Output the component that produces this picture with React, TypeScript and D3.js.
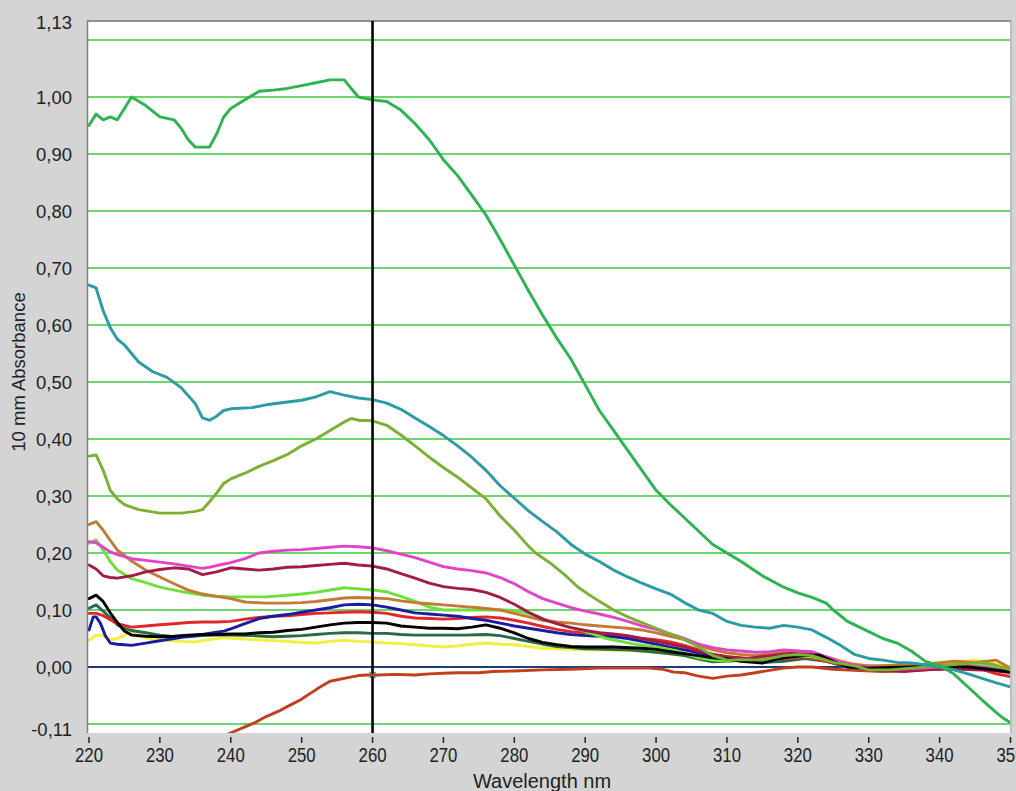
import React from "react";
import * as d3 from "d3";

type Pt = [number, number];

const xTicks = [220, 230, 240, 250, 260, 270, 280, 290, 300, 310, 320, 330, 340, 350];
const xTickLabels = ["220", "230", "240", "250", "260", "270", "280", "290", "300", "310", "320", "330", "340", "350"];
const gridValues = [-0.1, 0.0, 0.1, 0.2, 0.3, 0.4, 0.5, 0.6, 0.7, 0.8, 0.9, 1.0, 1.1];
const yTickValues = [1.13, 1.0, 0.9, 0.8, 0.7, 0.6, 0.5, 0.4, 0.3, 0.2, 0.1, 0.0, -0.11];
const yTickLabels = ["1,13", "1,00", "0,90", "0,80", "0,70", "0,60", "0,50", "0,40", "0,30", "0,20", "0,10", "0,00", "-0,11"];
const cursorWavelength = 260;

const greenTop: Pt[] = [[220,0.95],[221,0.97],[222,0.96],[223,0.965],[224,0.96],[225,0.98],[226,1.0],[228,0.985],[230,0.965],[232,0.96],[233,0.945],[234,0.925],[235,0.912],[237,0.912],[238,0.935],[239,0.965],[240,0.98],[242,0.995],[244,1.01],[246,1.012],[248,1.015],[250,1.02],[252,1.025],[254,1.03],[256,1.03],[257,1.015],[258,1.0],[260,0.995],[262,0.992],[264,0.977],[266,0.953],[268,0.925],[270,0.89],[272,0.862],[274,0.828],[276,0.793],[278,0.75],[280,0.705],[282,0.66],[284,0.617],[286,0.577],[288,0.54],[290,0.495],[292,0.45],[294,0.415],[296,0.38],[298,0.345],[300,0.31],[302,0.285],[305,0.25],[308,0.215],[310,0.2],[312,0.185],[315,0.16],[318,0.14],[320,0.13],[322,0.122],[324,0.112],[325,0.1],[327,0.08],[330,0.062],[332,0.05],[334,0.042],[336,0.028],[338,0.01],[340,0.002],[342,-0.012],[344,-0.035],[346,-0.058],[348,-0.08],[349,-0.09],[350,-0.098]];

const teal: Pt[] = [[220,0.67],[221,0.665],[222,0.625],[223,0.595],[224,0.575],[225,0.565],[227,0.535],[229,0.518],[231,0.508],[233,0.49],[235,0.462],[236,0.437],[237,0.433],[238,0.44],[239,0.45],[240,0.453],[243,0.455],[245,0.46],[248,0.465],[250,0.468],[252,0.474],[254,0.483],[256,0.477],[258,0.472],[260,0.469],[262,0.463],[264,0.452],[266,0.437],[268,0.422],[270,0.406],[272,0.388],[274,0.368],[276,0.345],[278,0.318],[280,0.296],[282,0.274],[284,0.255],[286,0.237],[288,0.215],[290,0.198],[292,0.185],[294,0.17],[296,0.158],[298,0.147],[300,0.137],[302,0.128],[304,0.113],[306,0.1],[308,0.094],[310,0.08],[312,0.073],[314,0.07],[316,0.068],[318,0.073],[320,0.07],[322,0.065],[324,0.052],[326,0.038],[328,0.022],[330,0.015],[332,0.012],[334,0.008],[336,0.007],[338,0.004],[340,0.0],[342,-0.005],[344,-0.012],[346,-0.02],[348,-0.028],[350,-0.035]];

const olive: Pt[] = [[220,0.37],[221,0.372],[222,0.345],[223,0.31],[224,0.295],[225,0.285],[227,0.276],[230,0.27],[233,0.27],[235,0.273],[236,0.276],[237,0.29],[238,0.305],[239,0.322],[240,0.33],[242,0.34],[244,0.352],[246,0.362],[248,0.373],[250,0.388],[252,0.4],[254,0.415],[256,0.43],[257,0.436],[258,0.433],[260,0.432],[262,0.424],[264,0.407],[266,0.388],[268,0.368],[270,0.35],[272,0.333],[274,0.314],[276,0.295],[278,0.265],[280,0.24],[282,0.212],[283,0.2],[285,0.183],[287,0.163],[289,0.14],[291,0.123],[294,0.1],[296,0.088],[298,0.078],[300,0.068],[302,0.058],[304,0.048],[306,0.035],[308,0.02],[310,0.012],[312,0.013],[315,0.012],[318,0.02],[320,0.022],[322,0.02],[325,0.008],[328,0.002],[330,-0.005],[333,-0.005],[336,-0.002],[340,0.002],[343,0.005],[346,0.008],[348,0.003],[350,-0.005]];

const orangeBrown: Pt[] = [[220,0.25],[221,0.255],[222,0.24],[223,0.222],[224,0.205],[226,0.186],[228,0.17],[230,0.158],[232,0.146],[234,0.135],[236,0.128],[238,0.124],[240,0.12],[242,0.114],[245,0.112],[248,0.112],[250,0.113],[252,0.115],[254,0.118],[256,0.121],[258,0.122],[260,0.121],[262,0.12],[264,0.116],[266,0.113],[268,0.111],[270,0.109],[273,0.106],[275,0.104],[278,0.1],[280,0.094],[282,0.088],[284,0.082],[286,0.079],[288,0.077],[290,0.074],[292,0.072],[294,0.07],[296,0.068],[298,0.065],[300,0.06],[302,0.054],[304,0.048],[306,0.038],[308,0.03],[310,0.025],[312,0.022],[314,0.02],[316,0.024],[318,0.026],[320,0.028],[322,0.024],[324,0.012],[326,0.006],[328,0.004],[330,0.002],[334,0.003],[338,0.005],[342,0.01],[345,0.008],[348,0.012],[350,-0.002]];

const lightGreen: Pt[] = [[220,0.217],[221,0.223],[222,0.205],[223,0.185],[224,0.17],[226,0.155],[228,0.148],[230,0.14],[232,0.135],[234,0.13],[236,0.126],[238,0.124],[240,0.123],[242,0.123],[245,0.123],[248,0.126],[250,0.128],[252,0.131],[254,0.135],[256,0.139],[258,0.137],[260,0.135],[262,0.132],[264,0.124],[266,0.115],[268,0.105],[270,0.1],[273,0.1],[276,0.1],[279,0.1],[281,0.097],[283,0.09],[285,0.08],[287,0.072],[289,0.066],[291,0.058],[293,0.05],[295,0.045],[297,0.04],[300,0.035],[303,0.028],[306,0.016],[308,0.012],[310,0.01],[313,0.014],[316,0.018],[319,0.02],[322,0.018],[325,0.01],[328,0.004],[332,0.0],[336,0.002],[340,0.004],[344,0.006],[347,0.002],[350,-0.005]];

const magenta: Pt[] = [[220,0.22],[221,0.218],[222,0.21],[223,0.202],[224,0.197],[226,0.19],[228,0.187],[230,0.184],[232,0.181],[234,0.177],[236,0.173],[237,0.175],[238,0.178],[240,0.183],[242,0.19],[244,0.2],[246,0.203],[248,0.205],[250,0.206],[252,0.208],[254,0.21],[256,0.212],[258,0.211],[260,0.209],[262,0.204],[264,0.198],[266,0.192],[268,0.184],[270,0.176],[272,0.172],[274,0.169],[276,0.165],[278,0.157],[280,0.146],[282,0.132],[284,0.12],[286,0.112],[288,0.104],[290,0.098],[292,0.093],[294,0.087],[296,0.08],[298,0.072],[300,0.066],[302,0.058],[304,0.05],[306,0.04],[308,0.034],[310,0.03],[312,0.028],[314,0.026],[316,0.027],[318,0.03],[320,0.028],[322,0.027],[324,0.018],[326,0.01],[328,0.004],[330,0.0],[334,-0.004],[338,-0.002],[342,0.002],[346,0.0],[350,-0.008]];

const maroon: Pt[] = [[220,0.179],[221,0.172],[222,0.16],[223,0.157],[224,0.156],[226,0.16],[228,0.167],[230,0.171],[232,0.174],[234,0.172],[236,0.162],[238,0.167],[240,0.174],[242,0.172],[244,0.17],[246,0.172],[248,0.175],[250,0.176],[252,0.178],[254,0.18],[256,0.182],[258,0.179],[260,0.177],[262,0.172],[264,0.164],[266,0.156],[268,0.147],[270,0.141],[272,0.138],[274,0.136],[276,0.131],[278,0.122],[280,0.11],[282,0.096],[284,0.084],[286,0.076],[288,0.069],[290,0.064],[292,0.06],[294,0.058],[296,0.055],[298,0.05],[300,0.045],[302,0.04],[304,0.035],[306,0.028],[308,0.022],[310,0.018],[313,0.015],[316,0.02],[319,0.024],[322,0.022],[325,0.01],[328,0.002],[331,-0.006],[335,-0.008],[339,-0.004],[343,-0.004],[347,-0.006],[350,-0.01]];

const black: Pt[] = [[220,0.12],[221,0.126],[222,0.115],[223,0.095],[224,0.078],[225,0.063],[226,0.056],[228,0.054],[230,0.053],[232,0.054],[234,0.056],[236,0.057],[238,0.057],[240,0.058],[242,0.058],[244,0.06],[246,0.061],[248,0.064],[250,0.066],[252,0.07],[254,0.074],[256,0.077],[258,0.078],[260,0.078],[262,0.077],[264,0.072],[266,0.07],[268,0.068],[270,0.068],[272,0.067],[274,0.07],[276,0.074],[278,0.068],[280,0.06],[282,0.05],[284,0.043],[286,0.039],[288,0.036],[290,0.035],[294,0.035],[298,0.033],[300,0.031],[303,0.025],[306,0.02],[308,0.016],[310,0.014],[312,0.01],[315,0.007],[317,0.014],[319,0.018],[321,0.02],[323,0.021],[325,0.01],[327,0.0],[330,-0.002],[333,-0.001],[336,0.0],[340,0.002],[344,0.0],[347,-0.004],[350,-0.009]];

const darkGreen: Pt[] = [[220,0.103],[221,0.109],[222,0.098],[223,0.086],[224,0.074],[225,0.068],[226,0.064],[228,0.06],[230,0.056],[232,0.053],[234,0.053],[236,0.055],[238,0.056],[240,0.056],[243,0.055],[246,0.053],[248,0.054],[250,0.055],[252,0.057],[254,0.059],[256,0.06],[258,0.06],[260,0.059],[262,0.059],[264,0.057],[266,0.056],[268,0.056],[270,0.056],[273,0.056],[276,0.057],[278,0.055],[280,0.05],[282,0.045],[284,0.04],[286,0.036],[288,0.034],[290,0.032],[293,0.031],[296,0.03],[299,0.027],[302,0.023],[304,0.02],[306,0.014],[308,0.009],[310,0.01],[312,0.012],[315,0.008],[318,0.01],[321,0.015],[324,0.01],[327,0.0],[330,-0.004],[334,-0.003],[338,0.0],[342,-0.002],[346,-0.003],[350,-0.006]];

const red: Pt[] = [[220,0.094],[221,0.094],[222,0.09],[223,0.083],[224,0.076],[226,0.07],[228,0.072],[230,0.074],[232,0.076],[234,0.078],[236,0.079],[238,0.079],[240,0.08],[242,0.084],[244,0.087],[246,0.089],[248,0.09],[250,0.092],[252,0.094],[254,0.095],[256,0.096],[258,0.097],[260,0.096],[262,0.094],[264,0.089],[266,0.086],[268,0.085],[270,0.084],[272,0.085],[274,0.087],[276,0.088],[278,0.086],[280,0.082],[282,0.077],[284,0.071],[286,0.066],[288,0.062],[290,0.06],[292,0.057],[294,0.056],[296,0.053],[298,0.05],[300,0.048],[302,0.044],[304,0.038],[306,0.03],[308,0.022],[310,0.018],[312,0.015],[315,0.012],[318,0.015],[321,0.018],[324,0.01],[327,0.002],[330,-0.003],[334,-0.004],[338,-0.003],[342,0.003],[345,0.0],[348,-0.012],[350,-0.017]];

const blue: Pt[] = [[220,0.065],[220.6,0.088],[221,0.088],[221.6,0.077],[222.3,0.055],[223,0.042],[224,0.04],[225,0.039],[226,0.038],[228,0.042],[230,0.046],[232,0.05],[234,0.054],[236,0.057],[238,0.061],[239,0.063],[240,0.067],[242,0.076],[244,0.085],[246,0.089],[248,0.092],[250,0.096],[252,0.1],[254,0.104],[256,0.109],[258,0.11],[260,0.109],[262,0.105],[264,0.1],[266,0.095],[268,0.093],[270,0.091],[272,0.089],[274,0.085],[276,0.082],[278,0.077],[280,0.072],[282,0.068],[284,0.064],[286,0.06],[288,0.057],[290,0.055],[292,0.054],[294,0.053],[296,0.05],[298,0.045],[300,0.04],[302,0.035],[304,0.03],[306,0.025],[308,0.02],[310,0.016],[312,0.013],[315,0.012],[318,0.018],[321,0.022],[323,0.02],[326,0.008],[329,0.0],[332,-0.003],[336,-0.002],[340,0.0],[344,0.003],[347,-0.002],[350,-0.005]];

const yellow: Pt[] = [[220,0.047],[221,0.056],[222,0.055],[223,0.048],[224,0.05],[225,0.056],[226,0.06],[227,0.055],[229,0.048],[231,0.047],[233,0.045],[235,0.044],[237,0.048],[239,0.051],[241,0.05],[243,0.048],[245,0.047],[248,0.045],[250,0.043],[252,0.042],[254,0.045],[256,0.047],[258,0.045],[260,0.044],[262,0.042],[264,0.041],[266,0.039],[268,0.037],[270,0.035],[272,0.037],[274,0.04],[276,0.042],[278,0.04],[280,0.039],[282,0.036],[284,0.033],[286,0.032],[288,0.031],[290,0.03],[292,0.03],[295,0.029],[298,0.028],[300,0.026],[303,0.022],[306,0.018],[309,0.015],[312,0.014],[315,0.016],[318,0.02],[321,0.024],[324,0.018],[327,0.008],[330,0.002],[334,0.0],[338,0.002],[342,0.008],[345,0.012],[347,0.008],[350,0.0]];

const rust: Pt[] = [[239.5,-0.118],[240.3,-0.114],[242,-0.105],[243.5,-0.097],[245,-0.087],[247,-0.076],[248.5,-0.066],[249.8,-0.058],[251,-0.048],[252.6,-0.035],[254,-0.025],[256,-0.02],[258,-0.015],[259.2,-0.014],[261,-0.014],[263,-0.013],[266,-0.014],[268,-0.012],[270,-0.011],[272,-0.01],[275,-0.01],[277,-0.008],[280,-0.007],[284,-0.005],[288,-0.004],[292,-0.002],[296,-0.002],[299,-0.002],[301,-0.004],[302.5,-0.009],[304,-0.01],[306,-0.016],[308,-0.02],[310,-0.016],[312,-0.014],[314,-0.01],[316,-0.006],[318,-0.002],[320,0.0],[322,0.0],[325,-0.004],[328,-0.006],[332,-0.008],[336,-0.006],[340,-0.004],[343,0.005],[346,0.004],[350,-0.004]];

const seriesList: { data: Pt[]; color: string }[] = [
  { data: rust, color: "#c0401e" },
  { data: yellow, color: "#f2f03c" },
  { data: darkGreen, color: "#2a6a44" },
  { data: red, color: "#e0282a" },
  { data: blue, color: "#1c1ca0" },
  { data: lightGreen, color: "#6ee03c" },
  { data: orangeBrown, color: "#c57a34" },
  { data: maroon, color: "#a21c44" },
  { data: magenta, color: "#e244c8" },
  { data: black, color: "#000000" },
  { data: olive, color: "#7cb032" },
  { data: teal, color: "#2a9ca2" },
  { data: greenTop, color: "#2db452" },
];

const W = 1016;
const H = 791;
const plotLeft = 88;
const plotRight = 1010;
const plotTop = 22;
const plotBottom = 733;

export default function App() {
  const x = d3.scaleLinear().domain([220, 350]).range([89, 1010.5]);
  const y = d3.scaleLinear().domain([-0.11, 1.13]).range([729.7, 22.9]);
  const line = d3
    .line<Pt>()
    .x((d) => x(d[0]))
    .y((d) => y(d[1]))
    .curve(d3.curveLinear);
  const font = "'Liberation Sans', Arial, Helvetica, sans-serif";
  const rustAtCursor = y(-0.014);

  return (
    <svg
      width={W}
      height={H}
      style={{ position: "absolute", left: 0, top: 0, display: "block" }}
    >
      <defs>
        <clipPath id="plotClip">
          <rect x={plotLeft} y={plotTop} width={plotRight - plotLeft} height={plotBottom - plotTop} />
        </clipPath>
      </defs>
      <rect x={0} y={0} width={W} height={H} fill="#d4d4d4" />
      <rect x={plotLeft} y={plotTop} width={plotRight - plotLeft} height={plotBottom - plotTop} fill="#ffffff" />
      {gridValues.map((v) => (
        <line
          key={"g" + v}
          x1={plotLeft}
          x2={plotRight}
          y1={y(v)}
          y2={y(v)}
          stroke={v === 0 ? "#1e3c78" : "#3cc83c"}
          strokeWidth={v === 0 ? 2.2 : 1.4}
        />
      ))}
      <g clipPath="url(#plotClip)" fill="none" strokeLinejoin="round" strokeLinecap="round">
        {seriesList.map((s, i) => (
          <path key={i} d={line(s.data) || ""} stroke={s.color} strokeWidth={2.9} />
        ))}
      </g>
      {/* frame */}
      <line x1={87} x2={1011} y1={21} y2={21} stroke="#7a7a7a" strokeWidth={1.5} />
      <line x1={87.5} x2={87.5} y1={21} y2={plotBottom} stroke="#808080" strokeWidth={1.5} />
      <line x1={1011} x2={1011} y1={21} y2={plotBottom} stroke="#b0b0b0" strokeWidth={1.2} />
      {/* cursor */}
      <line
        x1={x(cursorWavelength)}
        x2={x(cursorWavelength)}
        y1={21}
        y2={plotBottom}
        stroke="#000000"
        strokeWidth={2.6}
      />
      <g stroke="#7a6a60" strokeWidth={1.2}>
        <line x1={x(cursorWavelength) - 3} x2={x(cursorWavelength) + 3} y1={rustAtCursor - 3} y2={rustAtCursor + 3} />
        <line x1={x(cursorWavelength) - 3} x2={x(cursorWavelength) + 3} y1={rustAtCursor + 3} y2={rustAtCursor - 3} />
      </g>
      {/* y tick labels */}
      {yTickValues.map((v, i) => (
        <text
          key={"yl" + i}
          x={72}
          y={y(v)}
          textAnchor="end"
          dominantBaseline="central"
          fontFamily={font}
          fontSize={18.5}
          fill="#222"
        >
          {yTickLabels[i]}
        </text>
      ))}
      {/* x ticks */}
      {xTicks.map((t, i) => (
        <g key={"xt" + t}>
          <line x1={x(t)} x2={x(t)} y1={737} y2={743} stroke="#222" strokeWidth={1.5} />
          <text
            transform={`translate(${x(t)},762) scale(0.8,1)`}
            textAnchor="middle"
            fontFamily={font}
            fontSize={21}
            fill="#222"
          >
            {xTickLabels[i]}
          </text>
        </g>
      ))}
      <text x={542} y={788} textAnchor="middle" fontFamily={font} fontSize={20} fill="#222">
        Wavelength nm
      </text>
      <text
        transform="translate(25,372) rotate(-90)"
        textAnchor="middle"
        fontFamily={font}
        fontSize={18.5}
        fill="#222"
      >
        10 mm Absorbance
      </text>
    </svg>
  );
}
